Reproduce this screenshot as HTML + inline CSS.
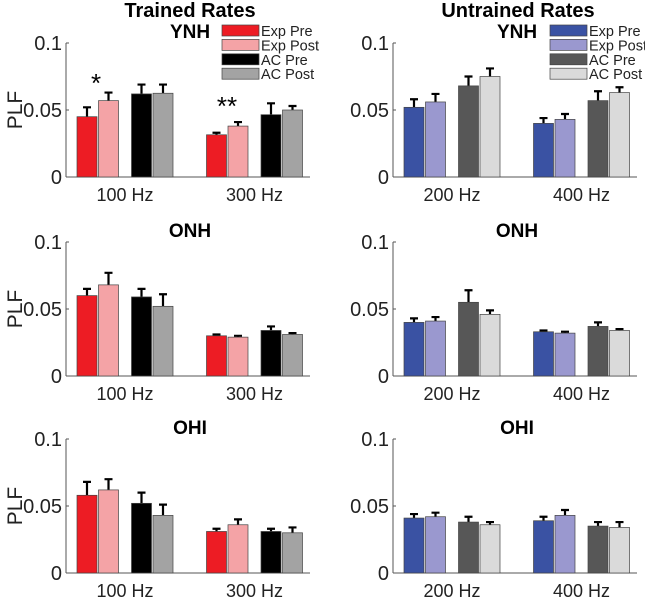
<!DOCTYPE html>
<html><head><meta charset="utf-8">
<style>
html,body{margin:0;padding:0;background:#fff;}
svg{display:block;font-family:"Liberation Sans",Arial,sans-serif;}
</style></head>
<body>
<svg id="fig" width="645" height="598" viewBox="0 0 645 598" xmlns="http://www.w3.org/2000/svg">
<text x="190" y="17" text-anchor="middle" font-size="20" font-weight="bold">Trained Rates</text>
<text x="518" y="17" text-anchor="middle" font-size="20" font-weight="bold">Untrained Rates</text>
</svg>
<script>
const seriesNames = ["Exp Pre","Exp Post","AC Pre","AC Post"];
const trainedCats = ["100 Hz","300 Hz"];
const untrainedCats = ["200 Hz","400 Hz"];
const yTicks = [0, 0.05, 0.1];
const yTickLabels = ["0","0.05","0.1"];
const groups = ["YNH","ONH","OHI"];
// values [group][category][series]
const trainedVals = [
  [[0.045,0.057,0.062,0.0625],[0.0315,0.038,0.0465,0.050]],
  [[0.060,0.068,0.059,0.052],[0.030,0.029,0.034,0.031]],
  [[0.058,0.062,0.052,0.043],[0.031,0.036,0.031,0.030]]
];
const trainedErr = [
  [[0.007,0.006,0.007,0.0065],[0.0015,0.003,0.0085,0.003]],
  [[0.005,0.009,0.006,0.009],[0.001,0.001,0.003,0.001]],
  [[0.010,0.008,0.008,0.008],[0.002,0.004,0.002,0.004]]
];
const untrainedVals = [
  [[0.052,0.056,0.068,0.075],[0.040,0.043,0.057,0.063]],
  [[0.040,0.041,0.055,0.046],[0.033,0.032,0.037,0.034]],
  [[0.041,0.042,0.038,0.036],[0.039,0.043,0.035,0.034]]
];
const untrainedErr = [
  [[0.006,0.006,0.007,0.006],[0.004,0.004,0.007,0.004]],
  [[0.003,0.003,0.009,0.003],[0.001,0.001,0.003,0.001]],
  [[0.003,0.003,0.004,0.002],[0.003,0.004,0.003,0.004]]
];
const trainedColors = ["#ed1c24","#f4a3a6","#000000","#a3a3a3"];
const untrainedColors = ["#3a52a3","#9a98cf","#575757","#dadada"];

const NS = "http://www.w3.org/2000/svg";
const svg = document.getElementById("fig");
function mk(tag, attrs, parent){
  const e = document.createElementNS(NS, tag);
  for (const k in attrs) e.setAttribute(k, attrs[k]);
  (parent||svg).appendChild(e);
  return e;
}
const rowTops = [43, 242, 439];
const plotH = 134;
const offsets = [-38, -16.5, 16.5, 38];
const barW = 20;

function panel(axX, top, cats, vals, errs, colors, title, showYLabel, pname){
  const g = mk("g", {});
  
  
  const y = v => top + plotH - v / 0.1 * plotH;
  const xCenter = i => axX + 59 + i * 129.5;
  const ya = mk("line", {x1:axX, y1:top, x2:axX, y2:top+plotH, stroke:"#555", "stroke-width":1}, g);
  
  
  const xa = mk("line", {x1:axX, y1:top+plotH, x2:axX+244, y2:top+plotH, stroke:"#555", "stroke-width":1}, g);
  
  
  yTicks.forEach((t, i) => {
    mk("line", {x1:axX, y1:y(t), x2:axX+3, y2:y(t), stroke:"#555"}, g);
    const tl = mk("text", {x:axX-4, y:y(t)+7, "text-anchor":"end", "font-size":20, fill:"#222"}, g);
    
    
    tl.textContent = yTickLabels[i];
  });
  if (showYLabel){
    const yl = mk("text", {x:0, y:0, transform:`translate(22,${top+plotH/2}) rotate(-90)`, "text-anchor":"middle", "font-size":21, fill:"#222"}, g);
    
    
    yl.textContent = "PLF";
  }
  const tt = mk("text", {x:axX+124, y:top-5, "text-anchor":"middle", "font-size":19, "font-weight":"bold"}, g);
  
  
  tt.textContent = title;
  cats.forEach((c, ci) => {
    const cl = mk("text", {x:xCenter(ci), y:top+plotH+24, "text-anchor":"middle", "font-size":18, fill:"#222"}, g);
    
    
    cl.textContent = c;
    vals[ci].forEach((v, si) => {
      const cx = xCenter(ci) + offsets[si];
      const top2 = y(v + errs[ci][si]);
      const eb = mk("path", {d:`M${cx},${y(v)}V${top2}M${cx-4},${top2}H${cx+4}`, stroke:"#000", "stroke-width":2.2, fill:"none"}, g);
      
      
      const r = mk("rect", {x:cx-barW/2, y:y(v), width:barW, height:y(0)-y(v), fill:colors[si], stroke:"#444", "stroke-width":0.7}, g);
      
      
    });
  });
  return {x: xCenter, y: y};
}
function legend(x0, colors, name){
  const g = mk("g", {});
  
  
  seriesNames.forEach((n, i) => {
    const cy = 30.5 + i * 14.4;
    const sw = mk("rect", {x:x0, y:cy-5.5, width:37, height:11, fill:colors[i], stroke:"#444", "stroke-width":0.7}, g);
    
    
    const t = mk("text", {x:x0+39, y:cy+5.5, "font-size":14.5, fill:"#222"}, g);
    
    
    t.textContent = n;
  });
}
groups.forEach((gname, gi) => {
  panel(66, rowTops[gi], trainedCats, trainedVals[gi], trainedErr[gi], trainedColors, gname, true, 'trained-panel-' + gname.toLowerCase());
  panel(393, rowTops[gi], untrainedCats, untrainedVals[gi], untrainedErr[gi], untrainedColors, gname, false, 'untrained-panel-' + gname.toLowerCase());
});
legend(222, trainedColors, 'trained-legend');
legend(550, untrainedColors, 'untrained-legend');
const s1 = mk("text", {x:96, y:92, "text-anchor":"middle", "font-size":26});


s1.textContent = "*";
const s2 = mk("text", {x:227, y:115, "text-anchor":"middle", "font-size":26});


s2.textContent = "**";
</script>
</body></html>
